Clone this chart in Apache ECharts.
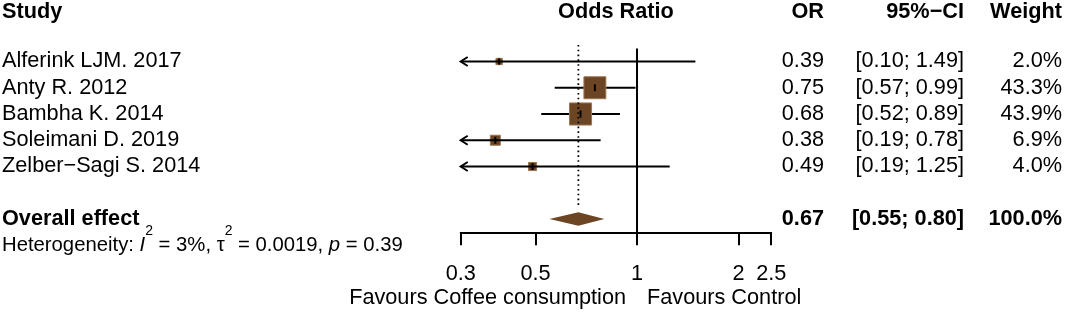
<!DOCTYPE html>
<html>
<head>
<meta charset="utf-8">
<script src="https://cdn.jsdelivr.net/npm/echarts@6/dist/echarts.min.js"></script>
<style>
  html, body { margin: 0; padding: 0; background: #fff; }
  #main { width: 1065px; height: 312px; }
</style>
</head>
<body>
<div id="main"></div>
<script>
// study data
var studies = ['Alferink LJM. 2017', 'Anty R. 2012', 'Bambha K. 2014', 'Soleimani D. 2019', 'Zelber\u2212Sagi S. 2014'];
var oddsRatio = [0.39, 0.75, 0.68, 0.38, 0.49];
var ciLower = [0.10, 0.57, 0.52, 0.19, 0.19];
var ciUpper = [1.49, 0.99, 0.89, 0.78, 1.25];
var weights = [2.0, 43.3, 43.9, 6.9, 4.0];

// pooled estimate
var overallLabel = 'Overall effect';
var overallOR = 0.67;
var overallLower = 0.55;
var overallUpper = 0.80;
var overallWeight = 100.0;

var headers = ['Study', 'Odds Ratio', 'OR', '95%\u2212CI', 'Weight'];
var axisTicks = [0.3, 0.5, 1, 2, 2.5];
var favourLabels = ['Favours Coffee consumption', 'Favours Control'];

// layout
var FONT = '"Liberation Sans", Arial, Helvetica, sans-serif';
var FS = 21.7;
var LW = 2;
var BROWN = '#6b4524';
var ROW0 = 61.5, ROWH = 26.25, AXIS_Y = 232.3, H = 312;
var X_LEFT = 460.7, X_RIGHT = 771.2;
var yMin = -ROW0 / ROWH;
var yMaxPlot = (AXIS_Y - ROW0) / ROWH;
var yMaxAll = (H - ROW0) / ROWH;
var xMin = Math.log10(axisTicks[0]);
var xMax = Math.log10(axisTicks[axisTicks.length - 1]);

var studyRows = studies.map(function (s, i) { return i; });
var overallRow = 6, hetRow = 7, headerRow = -1.88, favourRow = 9.0;

function lg(v) { return Math.log10(v); }

var chart = echarts.init(document.getElementById('main'), null, { renderer: 'canvas' });

function textColumn(x, rows, texts, align, weight) {
    return {
        type: 'custom',
        xAxisIndex: 1,
        yAxisIndex: 1,
        silent: true,
        data: rows.map(function (r) { return [x, r]; }),
        renderItem: function (params, api) {
            var p = api.coord([api.value(0), api.value(1)]);
            return {
                type: 'text',
                x: p[0],
                y: p[1],
                style: {
                    text: texts[params.dataIndex],
                    align: align,
                    verticalAlign: 'middle',
                    fill: '#000',
                    font: (weight || 'normal') + ' ' + FS + 'px ' + FONT
                }
            };
        }
    };
}

var studyData = studies.map(function (s, i) {
    return [lg(oddsRatio[i]), lg(ciLower[i]), lg(ciUpper[i]), weights[i], studyRows[i]];
});

var option = {
    animation: false,
    backgroundColor: '#fff',
    grid: [
        { left: X_LEFT, width: X_RIGHT - X_LEFT, top: 0, height: AXIS_Y, outerBoundsMode: 'none' },
        { left: 0, width: 1065, top: 0, height: H, outerBoundsMode: 'none' }
    ],
    xAxis: [{
        type: 'value',
        gridIndex: 0,
        min: xMin,
        max: xMax,
        position: 'bottom',
        splitLine: { show: false },
        axisLine: { show: true, onZero: false, lineStyle: { color: '#000', width: LW } },
        axisTick: {
            show: true, length: 13, inside: false,
            customValues: axisTicks.map(lg),
            lineStyle: { color: '#000', width: LW }
        },
        axisLabel: {
            show: true,
            customValues: axisTicks.map(lg),
            margin: 31,
            color: '#000',
            fontSize: FS,
            fontFamily: FONT,
            hideOverlap: false,
            formatter: function (v) { return String(+Math.pow(10, v).toFixed(2)); }
        }
    }, {
        type: 'value', gridIndex: 1, min: 0, max: 1065, show: false
    }],
    yAxis: [{
        type: 'value', gridIndex: 0, min: yMin, max: yMaxPlot, inverse: true, show: false
    }, {
        type: 'value', gridIndex: 1, min: yMin, max: yMaxAll, inverse: true, show: false
    }],
    series: [
        // line of no effect
        {
            type: 'line', xAxisIndex: 0, yAxisIndex: 0, symbol: 'none', silent: true,
            lineStyle: { color: '#000', width: LW },
            data: [[0, -0.5], [0, yMaxPlot]]
        },
        // pooled estimate reference
        {
            type: 'line', xAxisIndex: 0, yAxisIndex: 0, symbol: 'none', silent: true,
            lineStyle: { color: '#000', width: 1.8, type: [1.6, 3.2] },
            data: [[lg(overallOR), -0.63], [lg(overallOR), 5.55]]
        },
        // study CIs and boxes
        {
            type: 'custom', xAxisIndex: 0, yAxisIndex: 0, silent: true,
            data: studyData,
            renderItem: function (params, api) {
                var est = api.value(0), lo = api.value(1), hi = api.value(2);
                var w = api.value(3), row = api.value(4);
                var pLo = api.coord([Math.max(lo, xMin), row]);
                var pHi = api.coord([Math.min(hi, xMax), row]);
                var pc = api.coord([est, row]);
                var s = 3.02 * Math.sqrt(w) + 2.07;
                var line = { type: 'line', shape: { x1: pLo[0], y1: pLo[1], x2: pHi[0], y2: pHi[1] },
                    style: { stroke: '#000', lineWidth: LW } };
                var kids = [];
                if (s >= 12) kids.push(line);
                kids.push({ type: 'rect', shape: { x: pc[0] - s / 2, y: pc[1] - s / 2, width: s, height: s },
                    style: { fill: BROWN, stroke: '#9a7650', lineWidth: 1 } });
                if (s < 12) kids.push(line);
                var t = Math.min(s, 7);
                kids.push({ type: 'line', shape: { x1: pc[0], y1: pc[1] - t / 2, x2: pc[0], y2: pc[1] + t / 2 },
                    style: { stroke: '#000', lineWidth: LW } });
                if (lo < xMin) {
                    kids.push({ type: 'polyline',
                        shape: { points: [[pLo[0] + 7, pLo[1] - 4.5], [pLo[0], pLo[1]], [pLo[0] + 7, pLo[1] + 4.5]] },
                        style: { stroke: '#000', lineWidth: LW, fill: null } });
                }
                return { type: 'group', children: kids };
            }
        },
        // diamond
        {
            type: 'custom', xAxisIndex: 0, yAxisIndex: 0, silent: true,
            data: [[lg(overallOR), lg(overallLower), lg(overallUpper), overallRow]],
            renderItem: function (params, api) {
                var row = api.value(3);
                var a = api.coord([api.value(1), row]);
                var c = api.coord([api.value(0), row]);
                var b = api.coord([api.value(2), row]);
                var h = 6.7;
                return { type: 'polygon',
                    shape: { points: [[a[0], a[1]], [c[0], c[1] - h], [b[0], b[1]], [c[0], c[1] + h]] },
                    style: { fill: BROWN, stroke: null } };
            }
        },
        // table text
        textColumn(2, [headerRow], [headers[0]], 'left', 'bold'),
        textColumn((X_LEFT + X_RIGHT) / 2, [headerRow], [headers[1]], 'center', 'bold'),
        textColumn(824, [headerRow], [headers[2]], 'right', 'bold'),
        textColumn(964, [headerRow], [headers[3]], 'right', 'bold'),
        textColumn(1062, [headerRow], [headers[4]], 'right', 'bold'),
        textColumn(2, studyRows, studies, 'left'),
        textColumn(824, studyRows, oddsRatio.map(function (v) { return v.toFixed(2); }), 'right'),
        textColumn(964, studyRows, studies.map(function (s, i) {
            return '[' + ciLower[i].toFixed(2) + '; ' + ciUpper[i].toFixed(2) + ']';
        }), 'right'),
        textColumn(1062, studyRows, weights.map(function (v) { return v.toFixed(1) + '%'; }), 'right'),
        textColumn(2, [overallRow], [overallLabel], 'left', 'bold'),
        textColumn(824, [overallRow], [overallOR.toFixed(2)], 'right', 'bold'),
        textColumn(964, [overallRow], ['[' + overallLower.toFixed(2) + '; ' + overallUpper.toFixed(2) + ']'], 'right', 'bold'),
        textColumn(1062, [overallRow], [overallWeight.toFixed(1) + '%'], 'right', 'bold'),
        textColumn(626, [favourRow], [favourLabels[0]], 'right'),
        textColumn(647, [favourRow], [favourLabels[1]], 'left'),
        // heterogeneity line with superscripts
        {
            type: 'custom', xAxisIndex: 1, yAxisIndex: 1, silent: true,
            data: [[2, hetRow]],
            renderItem: function (params, api) {
                var p = api.coord([api.value(0), api.value(1)]);
                var base = { fontSize: 20.3, fontFamily: FONT, lineHeight: 42, fill: '#000', color: '#000' };
                return {
                    type: 'text', x: p[0], y: p[1],
                    style: {
                        text: '{n|Heterogeneity: }{i|I}{s|2}{n| = 3%, \u03c4}{s|2}{n| = 0.0019, }{i|p}{n| = 0.39}',
                        align: 'left', verticalAlign: 'middle',
                        rich: {
                            n: base,
                            i: Object.assign({}, base, { fontStyle: 'italic' }),
                            s: { fontSize: 14, fontFamily: FONT, lineHeight: 14, verticalAlign: 'top', fill: '#000', color: '#000' }
                        }
                    }
                };
            }
        }
    ]
};

chart.setOption(option);
</script>
</body>
</html>
